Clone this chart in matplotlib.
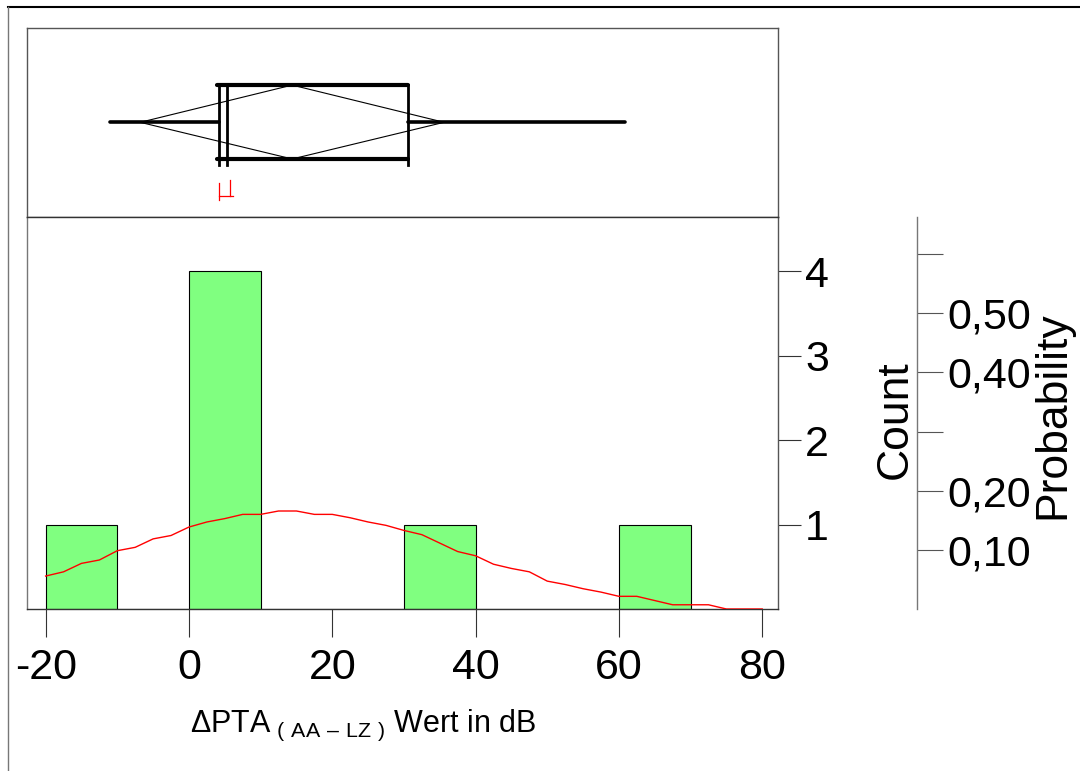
import matplotlib
matplotlib.use("Agg")
import matplotlib.pyplot as plt
from matplotlib.lines import Line2D

plt.rcParams['font.family'] = ['Liberation Sans', 'DejaVu Sans']
plt.rcParams['axes.unicode_minus'] = False
plt.rcParams['mathtext.fontset'] = 'custom'
plt.rcParams['mathtext.rm'] = 'Liberation Sans'

# -------------------------------------------------------------
# Data
# -------------------------------------------------------------
bin_lefts = [-20, -10, 0, 10, 20, 30, 40, 50, 60]
bin_counts = [1, 0, 4, 0, 0, 1, 0, 0, 1]
bin_width = 10

# fitted normal curve (in count units)
curve_x = [-20, -17.5, -15, -12.5, -10, -7.5, -5, -2.5, 0, 2.5,
           5, 7.5, 10, 12.5, 15, 17.5, 20, 22.5, 25, 27.5,
           30, 32.5, 35, 37.5, 40, 42.5, 45, 47.5, 50, 52.5,
           55, 57.5, 60, 62.5, 65, 67.5, 70, 72.5, 75, 77.5, 80]
curve_y = [0.39, 0.44, 0.54, 0.58, 0.69, 0.73, 0.83, 0.87, 0.97, 1.03,
           1.07, 1.12, 1.12, 1.16, 1.16, 1.12, 1.12, 1.08, 1.03, 0.99,
           0.93, 0.88, 0.78, 0.68, 0.63, 0.53, 0.48, 0.44, 0.33, 0.29,
           0.24, 0.20, 0.15, 0.15, 0.10, 0.05, 0.05, 0.05, 0.0, 0.0, 0.0]

# box plot summary
whisker_lo, q1, median, q3, whisker_hi = -11.0, 4.26, 5.3, 30.5, 60.9
mean_val, ci_lo, ci_hi = 14.4, -6.8, 35.6
short_half = (4.26, 5.75)

x_ticks = [-20, 0, 20, 40, 60, 80]
count_ticks = [1, 2, 3, 4]
prob_ticks = [0.1, 0.2, 0.3, 0.4, 0.5, 0.6]
prob_labels = ['0,10', '0,20', '', '0,40', '0,50', '']

x_range = (-22.6, 82.2)
count_top = 4.64

# -------------------------------------------------------------
# Layout helpers (pixel coordinates of the 1080x771 picture)
# -------------------------------------------------------------
W, H = 1080, 771


def rect(left, top, right, bottom):
    return [left / W, 1 - bottom / H, (right - left) / W, (bottom - top) / H]


fig = plt.figure(figsize=(10.8, 7.71), dpi=100)

# outer frame
fig.add_artist(Line2D([8 / W, 1], [1 - 7 / H] * 2, transform=fig.transFigure,
                      color='black', lw=1.5))
fig.add_artist(Line2D([8 / W] * 2, [0, 1 - 7 / H], transform=fig.transFigure,
                      color='#777777', lw=1.0))

# -------------------------------------------------------------
# Box plot panel
# -------------------------------------------------------------
ax_box = fig.add_axes(rect(27, 28, 778, 217))
ax_box.set_xlim(*x_range)
ax_box.set_ylim(0, 1)
ax_box.set_xticks([])
ax_box.set_yticks([])
for side in ['top', 'left', 'right', 'bottom']:
    ax_box.spines[side].set_color('#555555')
    ax_box.spines[side].set_linewidth(1.0)

y_top, y_mid, y_bot = 0.698, 0.501, 0.307
thick = 2.6
# whiskers
ax_box.plot([whisker_lo, q1], [y_mid, y_mid], color='black', lw=thick, solid_capstyle='round')
ax_box.plot([q3, whisker_hi], [y_mid, y_mid], color='black', lw=thick, solid_capstyle='round')
# box
ax_box.plot([q1 - 0.4, q3], [y_top, y_top], color='black', lw=3.0, solid_capstyle='round')
ax_box.plot([q1 - 0.4, q3], [y_bot, y_bot], color='black', lw=3.0, solid_capstyle='round')
for xv in [q1, median, q3]:
    ax_box.plot([xv, xv], [y_bot - 0.03, y_top], color='black', lw=2.0)
# means diamond
ax_box.plot([ci_lo, mean_val, ci_hi, mean_val, ci_lo],
            [y_mid, y_top, y_mid, y_bot, y_mid], color='black', lw=0.8)
# shortest half bracket
ax_box.plot([short_half[0], short_half[0]], [0.09, 0.18], color='red', lw=0.9)
ax_box.plot([short_half[0], short_half[1] + 0.45], [0.111, 0.111], color='red', lw=0.9)
ax_box.plot([short_half[1], short_half[1]], [0.111, 0.196], color='red', lw=0.9)

# -------------------------------------------------------------
# Histogram panel
# -------------------------------------------------------------
ax = fig.add_axes(rect(27, 217, 778, 609))
ax.bar(bin_lefts, bin_counts, width=bin_width, align='edge',
       color='#80ff80', edgecolor='black', linewidth=0.8, zorder=2)
ax.plot(curve_x, curve_y, color='red', lw=1.0, zorder=3)

ax.set_xlim(*x_range)
ax.set_ylim(0, count_top)
ax.set_xticks(x_ticks)
ax.set_xticklabels([str(v) for v in x_ticks])
ax.yaxis.tick_right()
ax.set_yticks(count_ticks)
ax.set_yticklabels([str(v) for v in count_ticks])
ax.tick_params(axis='x', direction='out', length=20, width=0.8, pad=8,
               labelsize=31, color='#333333')
ax.tick_params(axis='y', direction='out', length=16.5, width=0.8, pad=3,
               labelsize=31, color='#333333')
for side in ['top', 'left', 'right', 'bottom']:
    ax.spines[side].set_linewidth(1.0)
ax.spines['left'].set_color('#777777')
ax.spines['right'].set_color('#555555')
ax.spines['top'].set_color('#333333')
ax.spines['bottom'].set_color('#333333')

# -------------------------------------------------------------
# Probability axis (count / total)
# -------------------------------------------------------------
total = sum(bin_counts)
ax_p = fig.add_axes(rect(880, 217, 917, 609))
ax_p.patch.set_visible(False)
ax_p.set_ylim(0, count_top / total)
ax_p.set_xticks([])
for side in ['top', 'left', 'bottom']:
    ax_p.spines[side].set_visible(False)
ax_p.spines['right'].set_color('#777777')
ax_p.spines['right'].set_linewidth(1.0)
ax_p.yaxis.tick_right()
ax_p.set_yticks(prob_ticks)
ax_p.set_yticklabels(prob_labels)
ax_p.tick_params(axis='y', direction='out', length=19, width=0.8, pad=3,
                 labelsize=31, color='#555555')

# -------------------------------------------------------------
# Axis titles
# -------------------------------------------------------------
fig.text(895 / W, 1 - 420 / H, 'Count', rotation=90, ha='center', va='center',
         fontsize=32)
fig.text(1053 / W, 1 - 415 / H, 'Probability', rotation=90, ha='center',
         va='center', fontsize=32)
fig.text(190 / W, 1 - 732 / H,
         r'$\Delta$PTA$_{\mathrm{\ (\ AA\ –\ LZ\ )}}$ Wert in dB',
         ha='left', va='baseline', fontsize=22)

fig.savefig('out.png', dpi=100)
